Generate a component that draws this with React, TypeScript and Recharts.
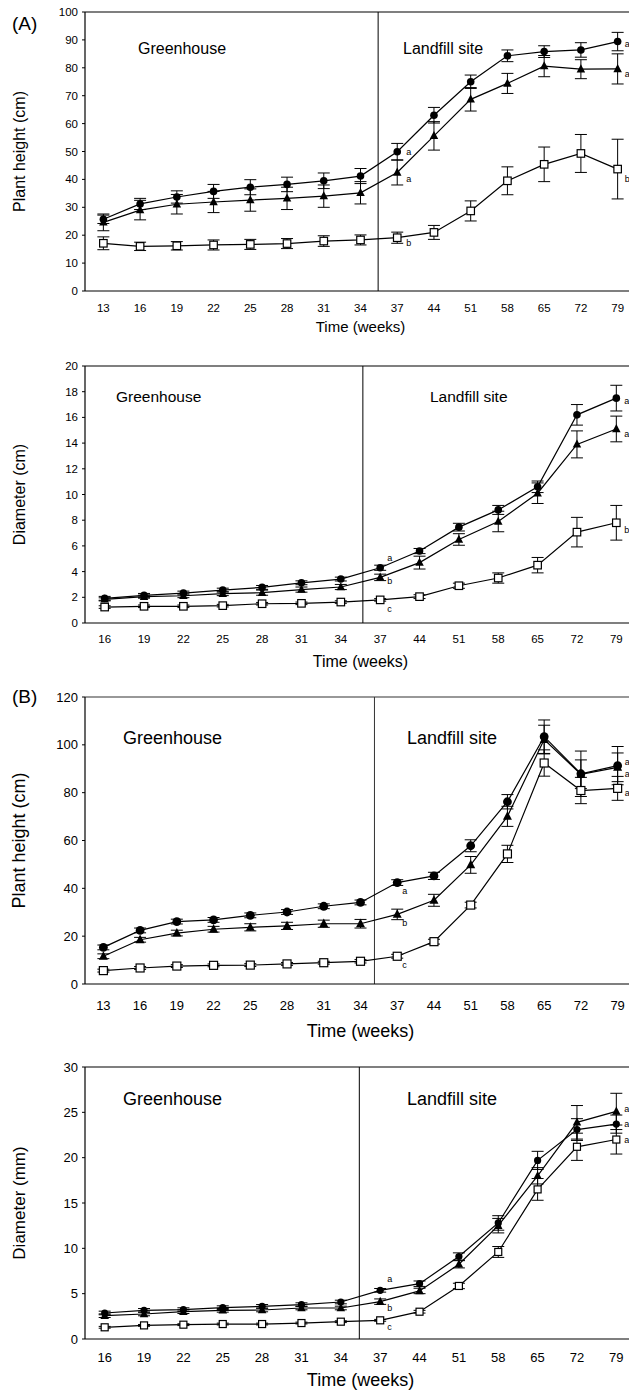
import React from 'react';
import { LineChart, Line, XAxis, YAxis, ReferenceLine, ErrorBar, LabelList } from 'recharts';

const FONT = '"Liberation Sans", Arial, Helvetica, sans-serif';

// x axis categories (weeks)
const weeksFrom13 = ['13', '16', '19', '22', '25', '28', '31', '34', '37', '44', '51', '58', '65', '72', '79'];
const weeksFrom16 = ['16', '19', '22', '25', '28', '31', '34', '37', '44', '51', '58', '65', '72', '79'];

// (A) plant height (cm)
const aHeightCircle = [25.7, 31.2, 33.7, 35.7, 37.2, 38.2, 39.5, 41.2, 49.9, 63, 75, 84.3, 85.8, 86.4, 89.4];
const aHeightCircleErr = [1.5, 2, 2.2, 2.5, 2.7, 2.6, 2.8, 2.7, 3, 2.8, 2.4, 2.1, 2.1, 2.6, 3.3];
const aHeightTri = [24.6, 29, 31.1, 31.9, 32.6, 33.2, 34, 35.2, 42.5, 55.6, 68.7, 74.4, 80.6, 79.5, 79.6];
const aHeightTriErr = [3, 3.5, 3.5, 3.8, 4, 4, 4, 4, 4.5, 5.1, 4.2, 3.6, 3.8, 3.4, 5.4];
const aHeightSq = [17.1, 16, 16.2, 16.5, 16.7, 17, 17.9, 18.3, 19.1, 21, 28.7, 39.5, 45.4, 49.3, 43.7];
const aHeightSqErr = [2.3, 1.5, 1.5, 1.8, 1.8, 1.8, 1.9, 1.8, 2, 2.5, 3.6, 5, 6.2, 6.8, 10.7];

// (A) diameter (cm)
const aDiamCircle = [1.92, 2.15, 2.33, 2.56, 2.77, 3.13, 3.42, 4.3, 5.6, 7.46, 8.8, 10.6, 16.2, 17.5];
const aDiamCircleErr = [0.15, 0.15, 0.15, 0.15, 0.15, 0.15, 0.15, 0.2, 0.2, 0.3, 0.35, 0.45, 0.8, 1];
const aDiamTri = [1.84, 2.05, 2.12, 2.28, 2.36, 2.6, 2.8, 3.55, 4.7, 6.5, 7.9, 10.1, 13.9, 15.1];
const aDiamTriErr = [0.12, 0.12, 0.15, 0.15, 0.2, 0.2, 0.2, 0.25, 0.5, 0.45, 0.8, 0.8, 1.05, 1];
const aDiamSq = [1.24, 1.3, 1.3, 1.35, 1.5, 1.53, 1.63, 1.8, 2.05, 2.9, 3.5, 4.5, 7.07, 7.8];
const aDiamSqErr = [0.1, 0.1, 0.1, 0.1, 0.1, 0.1, 0.1, 0.1, 0.15, 0.2, 0.4, 0.6, 1.15, 1.35];

// (B) plant height (cm)
const bHeightCircle = [15.3, 22.4, 26.1, 26.8, 28.7, 30.1, 32.5, 34.1, 42.4, 45.2, 57.8, 76.2, 103.4, 87.9, 91.3];
const bHeightCircleErr = [1, 1, 1, 1, 1, 1, 1, 1, 1.2, 1.5, 2.5, 3, 7, 9.5, 8];
const bHeightTri = [11.6, 18.5, 21.3, 22.9, 23.7, 24.3, 25.2, 25.2, 29.1, 35, 49.8, 70.1, 102.2, 87.7, 90.6];
const bHeightTriErr = [1, 1, 1.2, 1.2, 1.5, 1.5, 1.5, 1.8, 2.2, 2.5, 3.5, 4.2, 6, 6, 6];
const bHeightSq = [5.6, 6.7, 7.5, 7.8, 7.9, 8.4, 8.9, 9.5, 11.6, 17.7, 33, 54.4, 92.4, 80.9, 81.8];
const bHeightSqErr = [0.6, 0.6, 0.6, 0.6, 0.6, 0.6, 0.6, 0.7, 0.8, 1, 1.2, 3.6, 5.5, 5.5, 5];

// (B) diameter (mm)
const bDiamCircle = [2.87, 3.16, 3.24, 3.46, 3.6, 3.79, 4.08, 5.37, 6.1, 9.1, 12.8, 19.7, 23.1, 23.7];
const bDiamCircleErr = [0.2, 0.2, 0.2, 0.2, 0.2, 0.2, 0.2, 0.2, 0.3, 0.4, 0.8, 1, 1.2, 1];
const bDiamTri = [2.57, 2.76, 3.01, 3.16, 3.2, 3.42, 3.42, 4.12, 5.3, 8.24, 12.5, 18, 23.9, 25.1];
const bDiamTriErr = [0.2, 0.2, 0.2, 0.2, 0.2, 0.2, 0.2, 0.3, 0.3, 0.4, 0.8, 0.9, 1.85, 2];
const bDiamSq = [1.29, 1.5, 1.58, 1.65, 1.65, 1.76, 1.91, 2.06, 3.01, 5.85, 9.6, 16.5, 21.2, 22.0];
const bDiamSqErr = [0.1, 0.1, 0.1, 0.1, 0.1, 0.1, 0.1, 0.1, 0.15, 0.3, 0.6, 1.2, 1.5, 1.6];

// significance letters: [circle, triangle, square] at week 37 and at week 79
const aHeightLetters37 = ['a', 'a', 'b'];
const aHeightLetters79 = ['a', 'a', 'b'];
const aDiamLetters37 = ['a', 'b', 'c'];
const aDiamLetters79 = ['a', 'a', 'b'];
const bHeightLetters37 = ['a', 'b', 'c'];
const bHeightLetters79 = ['a', 'a', 'a'];
const bDiamLetters37 = ['a', 'b', 'c'];
const bDiamLetters79 = ['a', 'a', 'a'];

function buildRows(
  weeks: string[],
  c: number[], cErr: number[],
  t: number[], tErr: number[],
  s: number[], sErr: number[],
  l37: string[], l79: string[]
) {
  return weeks.map((w, i) => {
    const at37 = w === '37';
    const at79 = w === '79';
    return {
      i, week: w,
      c: c[i], cErr: cErr[i], cL: at37 ? l37[0] : '', cR: at79 ? l79[0] : '',
      t: t[i], tErr: tErr[i], tL: at37 ? l37[1] : '', tR: at79 ? l79[1] : '',
      s: s[i], sErr: sErr[i], sL: at37 ? l37[2] : '', sR: at79 ? l79[2] : '',
    };
  });
}

const circleDot = (r: number) => (p: any) =>
  p.cx == null ? <g key={`c${p.index}`} /> : <circle key={`c${p.index}`} cx={p.cx} cy={p.cy} r={r} fill="#000" />;

const triDot = (size: number) => (p: any) => {
  if (p.cx == null) return <g key={`t${p.index}`} />;
  const { cx, cy } = p;
  const h = size * 0.95;
  return (
    <path
      key={`t${p.index}`}
      d={`M${cx},${cy - h * 0.6} L${cx + size / 2},${cy + h * 0.4} L${cx - size / 2},${cy + h * 0.4} Z`}
      fill="#000"
    />
  );
};

const squareDot = (size: number) => (p: any) =>
  p.cx == null ? <g key={`s${p.index}`} /> : (
    <rect key={`s${p.index}`} x={p.cx - size / 2} y={p.cy - size / 2} width={size} height={size} fill="#fff" stroke="#000" strokeWidth={1.2} />
  );

const letterContent = (off: [number, number], fs: number) => (p: any) => {
  if (!p.value) return null;
  const x = p.x ?? p.viewBox?.x;
  const y = p.y ?? p.viewBox?.y;
  return (
    <text x={x + off[0]} y={y + off[1]} fontSize={fs} fontFamily={FONT} fill="#000" dominantBaseline="central">
      {p.value}
    </text>
  );
};

type Offs = { c: [number, number]; t: [number, number]; s: [number, number] };

type PanelProps = {
  top: number;
  height: number;
  rows: any[];
  weeks: string[];
  yMax: number;
  yStep: number;
  yTitle: string;
  yTitleSize: number;
  xTitleSize: number;
  xTitleOffset: number;
  tickSize: number;
  xTickMargin: number;
  xAxisHeight: number;
  divider: number;
  frameColor: string;
  dotR: number;
  triSize: number;
  sqSize: number;
  letterSize: number;
  offsL: Offs;
  offsR: Offs;
};

function Panel(props: PanelProps) {
  const { rows, weeks, yMax, yStep, offsL, offsR, letterSize } = props;
  const n = weeks.length;
  const yTicks = Array.from({ length: Math.round(yMax / yStep) + 1 }, (_, k) => k * yStep);
  const xTicks = weeks.map((_, i) => i);
  const tickStyle = { fill: '#000', fontSize: props.tickSize, fontFamily: FONT };

  return (
    <div style={{ position: 'absolute', left: 0, top: props.top }}>
      <LineChart width={660} height={props.height} data={rows} margin={{ top: 10, right: 24, bottom: 0, left: 0 }}>
        <XAxis
          dataKey="i"
          type="number"
          domain={[-0.5, n - 0.5]}
          ticks={xTicks}
          interval={0}
          tickFormatter={(v: number) => weeks[v] ?? ''}
          tick={tickStyle}
          tickLine={false}
          tickSize={0}
          tickMargin={props.xTickMargin}
          height={props.xAxisHeight}
          axisLine={{ stroke: '#000', strokeWidth: 1.2 }}
          label={{
            content: (p: any) => {
              const vb = p.viewBox;
              return (
                <text
                  x={vb.x + vb.width / 2}
                  y={vb.y + props.xTitleOffset}
                  textAnchor="middle"
                  dominantBaseline="central"
                  fontSize={props.xTitleSize}
                  fontFamily={FONT}
                  fill="#000"
                >
                  Time (weeks)
                </text>
              );
            },
          }}
        />
        <YAxis
          type="number"
          domain={[0, yMax]}
          ticks={yTicks}
          interval={0}
          width={85}
          tick={tickStyle}
          tickSize={3}
          tickMargin={4}
          tickLine={{ stroke: '#000' }}
          axisLine={{ stroke: '#000', strokeWidth: 1.2 }}
          label={{
            content: (p: any) => {
              const vb = p.viewBox;
              const cx = 19;
              const cy = vb.y + vb.height / 2;
              return (
                <text
                  x={cx}
                  y={cy}
                  transform={`rotate(-90 ${cx} ${cy})`}
                  textAnchor="middle"
                  dominantBaseline="central"
                  fontSize={props.yTitleSize}
                  fontFamily={FONT}
                  fill="#000"
                >
                  {props.yTitle}
                </text>
              );
            },
          }}
        />
        <ReferenceLine y={yMax} stroke={props.frameColor} strokeWidth={1.2} />
        <ReferenceLine x={props.divider} stroke={props.frameColor} strokeWidth={1} />
        <Line dataKey="s" stroke="#000" strokeWidth={1.2} isAnimationActive={false} dot={squareDot(props.sqSize)} activeDot={false}>
          <ErrorBar dataKey="sErr" direction="y" width={6} stroke="#000" strokeWidth={1} />
          <LabelList dataKey="sL" content={letterContent(offsL.s, letterSize)} />
          <LabelList dataKey="sR" content={letterContent(offsR.s, letterSize)} />
        </Line>
        <Line dataKey="t" stroke="#000" strokeWidth={1.2} isAnimationActive={false} dot={triDot(props.triSize)} activeDot={false}>
          <ErrorBar dataKey="tErr" direction="y" width={6} stroke="#000" strokeWidth={1} />
          <LabelList dataKey="tL" content={letterContent(offsL.t, letterSize)} />
          <LabelList dataKey="tR" content={letterContent(offsR.t, letterSize)} />
        </Line>
        <Line dataKey="c" stroke="#000" strokeWidth={1.2} isAnimationActive={false} dot={circleDot(props.dotR)} activeDot={false}>
          <ErrorBar dataKey="cErr" direction="y" width={6} stroke="#000" strokeWidth={1} />
          <LabelList dataKey="cL" content={letterContent(offsL.c, letterSize)} />
          <LabelList dataKey="cR" content={letterContent(offsR.c, letterSize)} />
        </Line>
      </LineChart>
    </div>
  );
}

const Note = ({ x, y, size, children }: { x: number; y: number; size: number; children: React.ReactNode }) => (
  <div
    style={{
      position: 'absolute',
      left: x,
      top: y - size * 0.6,
      fontSize: size,
      lineHeight: 1.2,
      fontFamily: FONT,
      color: '#000',
      whiteSpace: 'nowrap',
    }}
  >
    {children}
  </div>
);

export default function App() {
  const aHeightRows = buildRows(weeksFrom13, aHeightCircle, aHeightCircleErr, aHeightTri, aHeightTriErr, aHeightSq, aHeightSqErr, aHeightLetters37, aHeightLetters79);
  const aDiamRows = buildRows(weeksFrom16, aDiamCircle, aDiamCircleErr, aDiamTri, aDiamTriErr, aDiamSq, aDiamSqErr, aDiamLetters37, aDiamLetters79);
  const bHeightRows = buildRows(weeksFrom13, bHeightCircle, bHeightCircleErr, bHeightTri, bHeightTriErr, bHeightSq, bHeightSqErr, bHeightLetters37, bHeightLetters79);
  const bDiamRows = buildRows(weeksFrom16, bDiamCircle, bDiamCircleErr, bDiamTri, bDiamTriErr, bDiamSq, bDiamSqErr, bDiamLetters37, bDiamLetters79);

  return (
    <div style={{ position: 'absolute', left: 0, top: 0, width: 629, height: 1393, overflow: 'hidden', background: '#fff' }}>
      <Panel
        top={2} height={340} rows={aHeightRows} weeks={weeksFrom13} yMax={100} yStep={10}
        yTitle="Plant height (cm)" yTitleSize={16} xTitleSize={15} xTitleOffset={35}
        tickSize={11.5} xTickMargin={13} xAxisHeight={51} divider={7.48} frameColor="#000"
        dotR={3.8} triSize={8.5} sqSize={7.5} letterSize={9}
        offsL={{ c: [9, 0], t: [9, 7], s: [9, 5] }}
        offsR={{ c: [7, 2], t: [7, 5], s: [7, 10] }}
      />
      <Panel
        top={356} height={319} rows={aDiamRows} weeks={weeksFrom16} yMax={20} yStep={2}
        yTitle="Diameter (cm)" yTitleSize={16} xTitleSize={16} xTitleOffset={38}
        tickSize={11.5} xTickMargin={12} xAxisHeight={52} divider={6.56} frameColor="#000"
        dotR={3.8} triSize={8.5} sqSize={7.5} letterSize={9}
        offsL={{ c: [7, -10], t: [7, 4], s: [7, 9] }}
        offsR={{ c: [8, 3], t: [8, 5], s: [8, 7] }}
      />
      <Panel
        top={687} height={359} rows={bHeightRows} weeks={weeksFrom13} yMax={120} yStep={20}
        yTitle="Plant height (cm)" yTitleSize={18} xTitleSize={18} xTitleOffset={47}
        tickSize={13} xTickMargin={17} xAxisHeight={62} divider={7.38} frameColor="#333"
        dotR={4.4} triSize={9} sqSize={8} letterSize={9}
        offsL={{ c: [5, 8], t: [5, 9], s: [5, 9] }}
        offsR={{ c: [7, -4], t: [7, 7], s: [7, 5] }}
      />
      <Panel
        top={1057} height={336} rows={bDiamRows} weeks={weeksFrom16} yMax={30} yStep={5}
        yTitle="Diameter (mm)" yTitleSize={17} xTitleSize={18} xTitleOffset={41}
        tickSize={13} xTickMargin={14} xAxisHeight={54} divider={6.47} frameColor="#000"
        dotR={3.6} triSize={8.5} sqSize={7} letterSize={9}
        offsL={{ c: [7, -11], t: [7, 6], s: [7, 7] }}
        offsR={{ c: [8, 0], t: [8, -2], s: [8, 0] }}
      />

      <Note x={12} y={24} size={19}>(A)</Note>
      <Note x={12} y={697} size={19}>(B)</Note>

      <Note x={138} y={49} size={16}>Greenhouse</Note>
      <Note x={403} y={49} size={16}>Landfill site</Note>
      <Note x={116} y={397} size={15.5}>Greenhouse</Note>
      <Note x={430} y={397} size={15.5}>Landfill site</Note>
      <Note x={123} y={739} size={18}>Greenhouse</Note>
      <Note x={407} y={739} size={18}>Landfill site</Note>
      <Note x={123} y={1100} size={18}>Greenhouse</Note>
      <Note x={407} y={1100} size={18}>Landfill site</Note>
    </div>
  );
}
